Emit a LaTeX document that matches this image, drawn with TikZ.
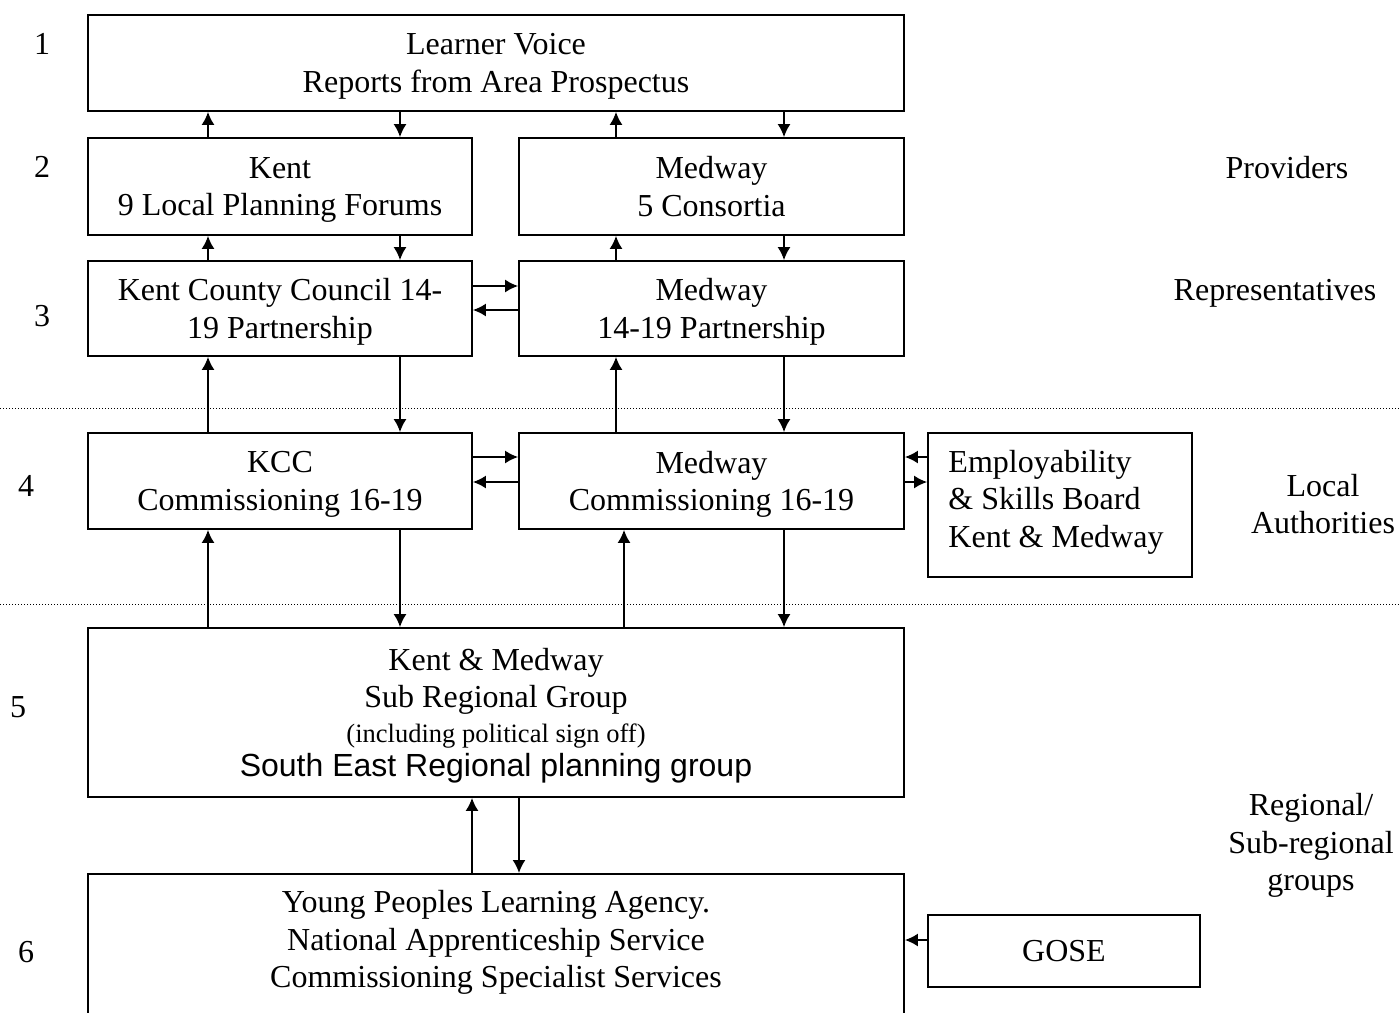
\documentclass[tikz,border=0pt]{standalone}
\usepackage{fontspec}
\setmainfont{Liberation Serif}
\setsansfont{Liberation Sans}
\usetikzlibrary{positioning}
\usetikzlibrary{arrows.meta}

\begin{document}
\begin{tikzpicture}[x=1pt, y=-1pt, >={Latex[length=13pt,width=13pt]},
box/.style={draw, line width=1.8pt, inner sep=0pt, align=center, text depth=0pt, font=\fontsize{32}{37.5}\selectfont},
lbl/.style={align=center, text depth=0pt, font=\fontsize{32}{37.5}\selectfont},
link/.style={->, line width=1.8pt}]

\useasboundingbox (0,0) rectangle (1399,1012);
\clip (0,0) rectangle (1399,1012);

%% columns and rows of the connectors
\coordinate (c1) at (208,0);
\coordinate (c2) at (400,0);
\coordinate (c3) at (616,0);
\coordinate (c4) at (784,0);
\coordinate (c5) at (624,0);
\coordinate (c6) at (472,0);
\coordinate (c7) at (519,0);
\coordinate (r1) at (0,286);
\coordinate (r2) at (0,310);
\coordinate (r3) at (0,457);
\coordinate (r4) at (0,482);
\coordinate (r5) at (0,940);

%% level separators
\draw [dotted, line width=1pt] (0,408) -- (1399,408);
\draw [dotted, line width=1pt] (0,604) -- (1399,604);

%% boxes
\node [box, minimum width=816, minimum height=96] (voice) at (496,63) {Learner Voice\\Reports from Area Prospectus};
\node [box, minimum width=384, minimum height=97] (kent) at (280,186.5) {Kent\\9 Local Planning Forums};
\node [box, minimum width=385, minimum height=97] (cons) at (711.5,186.5) {Medway\\5 Consortia};
\node [box, minimum width=384, minimum height=95] (kccp) at (280,308.5) {Kent County Council 14-\\19 Partnership};
\node [box, minimum width=385, minimum height=95] (medp) at (711.5,308.5) {Medway\\14-19 Partnership};
\node [box, minimum width=384, minimum height=96] (kccc) at (280,481) {KCC\\Commissioning 16-19};
\node [box, minimum width=385, minimum height=96] (medc) at (711.5,481) {Medway\\Commissioning 16-19};
\node [box, minimum width=264, minimum height=144] (esb) at (1060,505) {};
\node [lbl, align=left] (esbtext) at (1056,498.5) {Employability\\\& Skills Board\\Kent \& Medway};
\node [box, minimum width=816, minimum height=169] (srg) at (496,712.5) {Kent \& Medway\\Sub Regional Group\\[-3pt]
  {\fontsize{26.5}{34}\selectfont (including political sign off)}\\[-3pt]
  {\sffamily South East Regional planning group}};
\node [box, minimum width=816, minimum height=200, anchor=north] (ypla) at (496,873) {};
\node [lbl] (yplatext) at (496,939) {Young Peoples Learning Agency.\\National Apprenticeship Service\\Commissioning Specialist Services};
\node [box, minimum width=272, minimum height=72] (gose) at (1064,951) {GOSE};

%% level numbers
\node [lbl] (n1) at (42,44) {1};
\node [lbl] (n2) at (42,167) {2};
\node [lbl] (n3) at (42,316) {3};
\node [lbl] (n4) at (26,486) {4};
\node [lbl] (n5) at (18,707) {5};
\node [lbl] (n6) at (26,952) {6};

%% level names
\node [lbl] (prov) at (1287,167) {Providers};
\node [lbl] (reps) at (1275,290) {Representatives};
\node [lbl] (la) at (1323,504) {Local\\Authorities};
\node [lbl] (reg) at (1311,842) {Regional/\\Sub-regional\\groups};

%% vertical connectors
\draw [link] (kent.north -| c1) -- (voice.south -| c1);
\draw [link] (voice.south -| c2) -- (kent.north -| c2);
\draw [link] (cons.north -| c3) -- (voice.south -| c3);
\draw [link] (voice.south -| c4) -- (cons.north -| c4);

\draw [link] (kccp.north -| c1) -- (kent.south -| c1);
\draw [link] (kent.south -| c2) -- (kccp.north -| c2);
\draw [link] (medp.north -| c3) -- (cons.south -| c3);
\draw [link] (cons.south -| c4) -- (medp.north -| c4);

\draw [link] (kccc.north -| c1) -- (kccp.south -| c1);
\draw [link] (kccp.south -| c2) -- (kccc.north -| c2);
\draw [link] (medc.north -| c3) -- (medp.south -| c3);
\draw [link] (medp.south -| c4) -- (medc.north -| c4);

\draw [link] (srg.north -| c1) -- (kccc.south -| c1);
\draw [link] (kccc.south -| c2) -- (srg.north -| c2);
\draw [link] (srg.north -| c5) -- (medc.south -| c5);
\draw [link] (medc.south -| c4) -- (srg.north -| c4);

\draw [link] (ypla.north -| c6) -- (srg.south -| c6);
\draw [link] (srg.south -| c7) -- (ypla.north -| c7);

%% horizontal connectors
\draw [link] (kccp.east |- r1) -- (medp.west |- r1);
\draw [link] (medp.west |- r2) -- (kccp.east |- r2);
\draw [link] (kccc.east |- r3) -- (medc.west |- r3);
\draw [link] (medc.west |- r4) -- (kccc.east |- r4);
\draw [link] (esb.west |- r3) -- (medc.east |- r3);
\draw [link] (medc.east |- r4) -- (esb.west |- r4);
\draw [link] (gose.west |- r5) -- (ypla.east |- r5);

\end{tikzpicture}
\end{document}
